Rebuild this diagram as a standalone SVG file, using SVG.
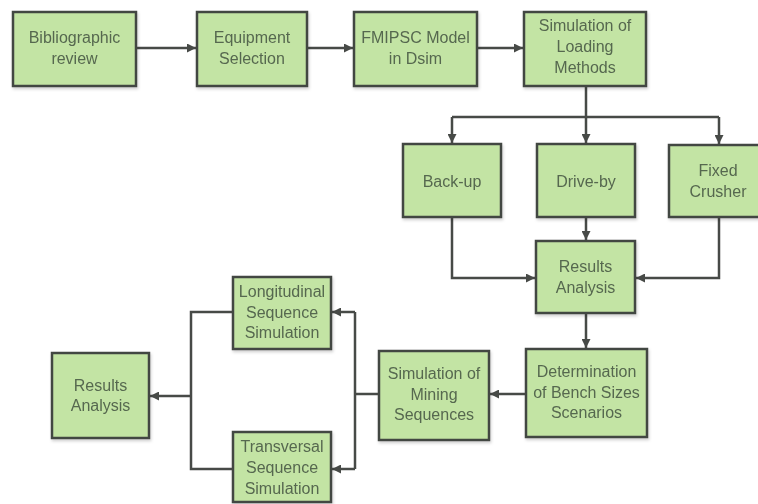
<svg xmlns="http://www.w3.org/2000/svg" width="758" height="504" viewBox="0 0 758 504">
<style>
.box{fill:#c3e4a4;stroke:#434643;stroke-width:2.5}
.t{font-family:"Liberation Sans",Arial,sans-serif;font-size:16px;fill:#56684f;text-anchor:middle}
.c{fill:none;stroke:#474a47;stroke-width:2.5}
</style>
<defs>
<marker id="ah" viewBox="0 0 10 10" refX="10" refY="5" markerWidth="10" markerHeight="9" markerUnits="userSpaceOnUse" orient="auto">
<path d="M0,0 L10,5 L0,10 z" fill="#474a47"/>
</marker>
<filter id="sh" x="-10%" y="-10%" width="130%" height="130%">
<feDropShadow dx="1" dy="2" stdDeviation="1.5" flood-color="#000" flood-opacity="0.18"/>
</filter>
</defs>
<rect width="758" height="504" fill="#ffffff"/>
<g id="connectors">
<path class="c" d="M136,48 H196" marker-end="url(#ah)"/>
<path class="c" d="M307,48 H353" marker-end="url(#ah)"/>
<path class="c" d="M477,48 H523" marker-end="url(#ah)"/>
<path class="c" d="M586,86 V117"/>
<path class="c" d="M452,117 H719"/>
<path class="c" d="M452,117 V143" marker-end="url(#ah)"/>
<path class="c" d="M586,117 V143" marker-end="url(#ah)"/>
<path class="c" d="M719,117 V144" marker-end="url(#ah)"/>
<path class="c" d="M586,217 V240" marker-end="url(#ah)"/>
<path class="c" d="M452,217 V278 H535" marker-end="url(#ah)"/>
<path class="c" d="M719,217 V278 H636" marker-end="url(#ah)"/>
<path class="c" d="M586,313 V348" marker-end="url(#ah)"/>
<path class="c" d="M526,394 H490" marker-end="url(#ah)"/>
<path class="c" d="M379,394 H355"/>
<path class="c" d="M355,312 V469"/>
<path class="c" d="M355,312 H332" marker-end="url(#ah)"/>
<path class="c" d="M355,469 H332" marker-end="url(#ah)"/>
<path class="c" d="M233,312 H191 V469 H233"/>
<path class="c" d="M191,396 H150" marker-end="url(#ah)"/>
</g>
<g id="bibliographic" filter="url(#sh)">
<rect class="box" x="13" y="12" width="123" height="74"/>
<text class="t" x="74.5" y="43">Bibliographic</text>
<text class="t" x="74.5" y="64">review</text>
</g>
<g id="equipment" filter="url(#sh)">
<rect class="box" x="197" y="12" width="110" height="74"/>
<text class="t" x="252" y="43">Equipment</text>
<text class="t" x="252" y="64">Selection</text>
</g>
<g id="fmipsc" filter="url(#sh)">
<rect class="box" x="354" y="12" width="123" height="74"/>
<text class="t" x="415.5" y="43">FMIPSC Model</text>
<text class="t" x="415.5" y="64">in Dsim</text>
</g>
<g id="loading" filter="url(#sh)">
<rect class="box" x="524" y="12" width="122" height="74"/>
<text class="t" x="585" y="31">Simulation of</text>
<text class="t" x="585" y="52">Loading</text>
<text class="t" x="585" y="73">Methods</text>
</g>
<g id="backup" filter="url(#sh)">
<rect class="box" x="403" y="144" width="98" height="73"/>
<text class="t" x="452" y="187">Back-up</text>
</g>
<g id="driveby" filter="url(#sh)">
<rect class="box" x="537" y="144" width="98" height="73"/>
<text class="t" x="586" y="187">Drive-by</text>
</g>
<g id="fixed" filter="url(#sh)">
<rect class="box" x="669" y="145" width="100" height="72"/>
<text class="t" x="718" y="176">Fixed</text>
<text class="t" x="718" y="197">Crusher</text>
</g>
<g id="results1" filter="url(#sh)">
<rect class="box" x="536" y="241" width="99" height="72"/>
<text class="t" x="585.5" y="272">Results</text>
<text class="t" x="585.5" y="293">Analysis</text>
</g>
<g id="determination" filter="url(#sh)">
<rect class="box" x="526" y="349" width="121" height="88"/>
<text class="t" x="586.5" y="377">Determination</text>
<text class="t" x="586.5" y="398">of Bench Sizes</text>
<text class="t" x="586.5" y="418">Scenarios</text>
</g>
<g id="mining" filter="url(#sh)">
<rect class="box" x="379" y="351" width="110" height="89"/>
<text class="t" x="434" y="379">Simulation of</text>
<text class="t" x="434" y="400">Mining</text>
<text class="t" x="434" y="420">Sequences</text>
</g>
<g id="longitudinal" filter="url(#sh)">
<rect class="box" x="233" y="277" width="98" height="72"/>
<text class="t" x="282" y="297">Longitudinal</text>
<text class="t" x="282" y="318">Sequence</text>
<text class="t" x="282" y="338">Simulation</text>
</g>
<g id="transversal" filter="url(#sh)">
<rect class="box" x="233" y="432" width="98" height="70"/>
<text class="t" x="282" y="452">Transversal</text>
<text class="t" x="282" y="473">Sequence</text>
<text class="t" x="282" y="494">Simulation</text>
</g>
<g id="results2" filter="url(#sh)">
<rect class="box" x="52" y="353" width="97" height="85"/>
<text class="t" x="100.5" y="391">Results</text>
<text class="t" x="100.5" y="411">Analysis</text>
</g>
</svg>
